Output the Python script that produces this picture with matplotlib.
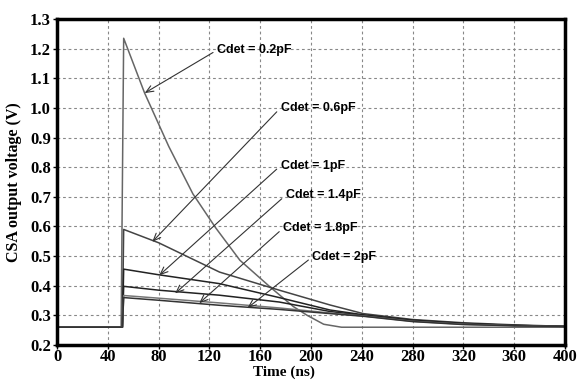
import matplotlib
matplotlib.use("Agg")
import matplotlib.pyplot as plt

# CSA output for each detector capacitance (time in ns, voltage in V)
t_02 = [0, 50.5, 52.5, 69, 88, 107, 125, 144, 168, 186, 197, 210, 224, 400]
v_02 = [0.26, 0.26, 1.235, 1.05, 0.87, 0.71, 0.595, 0.486, 0.395, 0.33, 0.30, 0.27, 0.26, 0.26]

t_rest = [0, 51.5, 52.5, 80, 128, 175, 215, 241, 280, 320, 360, 400]
v_06 = [0.26, 0.26, 0.59, 0.545, 0.446, 0.385, 0.335, 0.306, 0.286, 0.275, 0.268, 0.263]
v_1 = [0.26, 0.26, 0.456, 0.437, 0.407, 0.36, 0.318, 0.302, 0.284, 0.273, 0.266, 0.263]
v_14 = [0.26, 0.26, 0.398, 0.385, 0.368, 0.345, 0.313, 0.300, 0.282, 0.272, 0.266, 0.263]
v_18 = [0.26, 0.26, 0.367, 0.358, 0.342, 0.325, 0.308, 0.298, 0.280, 0.270, 0.265, 0.262]
v_2 = [0.26, 0.26, 0.36, 0.351, 0.334, 0.32, 0.306, 0.297, 0.279, 0.269, 0.265, 0.262]

labels = ["Cdet = 0.2pF", "Cdet = 0.6pF", "Cdet = 1pF", "Cdet = 1.4pF", "Cdet = 1.8pF", "Cdet = 2pF"]
arrow_tips = [(69, 1.05), (75, 0.548), (80.5, 0.435), (93, 0.374), (112, 0.341), (150, 0.325)]
text_pos = [(126, 1.195), (176, 1.0), (176, 0.805), (180, 0.705), (178, 0.594), (201, 0.497)]

xticks = [0, 40, 80, 120, 160, 200, 240, 280, 320, 360, 400]
yticks = [0.2, 0.3, 0.4, 0.5, 0.6, 0.7, 0.8, 0.9, 1.0, 1.1, 1.2, 1.3]

fig, ax = plt.subplots(figsize=(5.81, 3.80), dpi=100)
fig.subplots_adjust(left=57/581, right=565/581, top=1-19/380, bottom=1-345/380)

ax.plot(t_02, v_02, color="#666666", lw=1.1)
ax.plot(t_rest, v_06, color="#444444", lw=1.1)
ax.plot(t_rest, v_1, color="#222222", lw=1.1)
ax.plot(t_rest, v_14, color="#222222", lw=1.1)
ax.plot(t_rest, v_18, color="#777777", lw=1.1)
ax.plot(t_rest, v_2, color="#333333", lw=1.1)

for lab, tip, pos in zip(labels, arrow_tips, text_pos):
    ax.annotate(lab, xy=tip, xytext=pos, ha="left", va="center",
                fontsize=9, fontweight="bold", family="Liberation Sans",
                arrowprops=dict(arrowstyle="->,head_length=0.6,head_width=0.25",
                                color="#333333", lw=0.8, relpos=(0, 0.5),
                                shrinkA=1, shrinkB=0))

ax.set_xlim(0, 400)
ax.set_ylim(0.2, 1.3)
ax.set_xticks(xticks)
ax.set_yticks(yticks)
ax.set_xticklabels([str(x) for x in xticks])
ax.set_yticklabels(["%.1f" % y for y in yticks])
ax.grid(True, color="#888888", linestyle=(0, (2.5, 2.5)), lw=0.8)
ax.set_axisbelow(True)

for lbl in ax.get_xticklabels() + ax.get_yticklabels():
    lbl.set_family("Liberation Serif")
    lbl.set_fontweight("bold")
    lbl.set_fontsize(12)
ax.tick_params(direction="out", length=3, width=1, pad=1.5)
ax.tick_params(axis="x", pad=0)

for s in ax.spines.values():
    s.set_linewidth(2.5)
    s.set_color("black")

ax.set_xlabel("Time (ns)", family="Liberation Serif", fontweight="bold", fontsize=11)
ax.set_ylabel("CSA output voltage (V)", family="Liberation Serif", fontweight="bold", fontsize=11.5)
ax.xaxis.set_label_coords(0.447, -0.062)
ax.yaxis.set_label_coords(-0.068, 0.5)

plt.savefig("out.png", dpi=100)
